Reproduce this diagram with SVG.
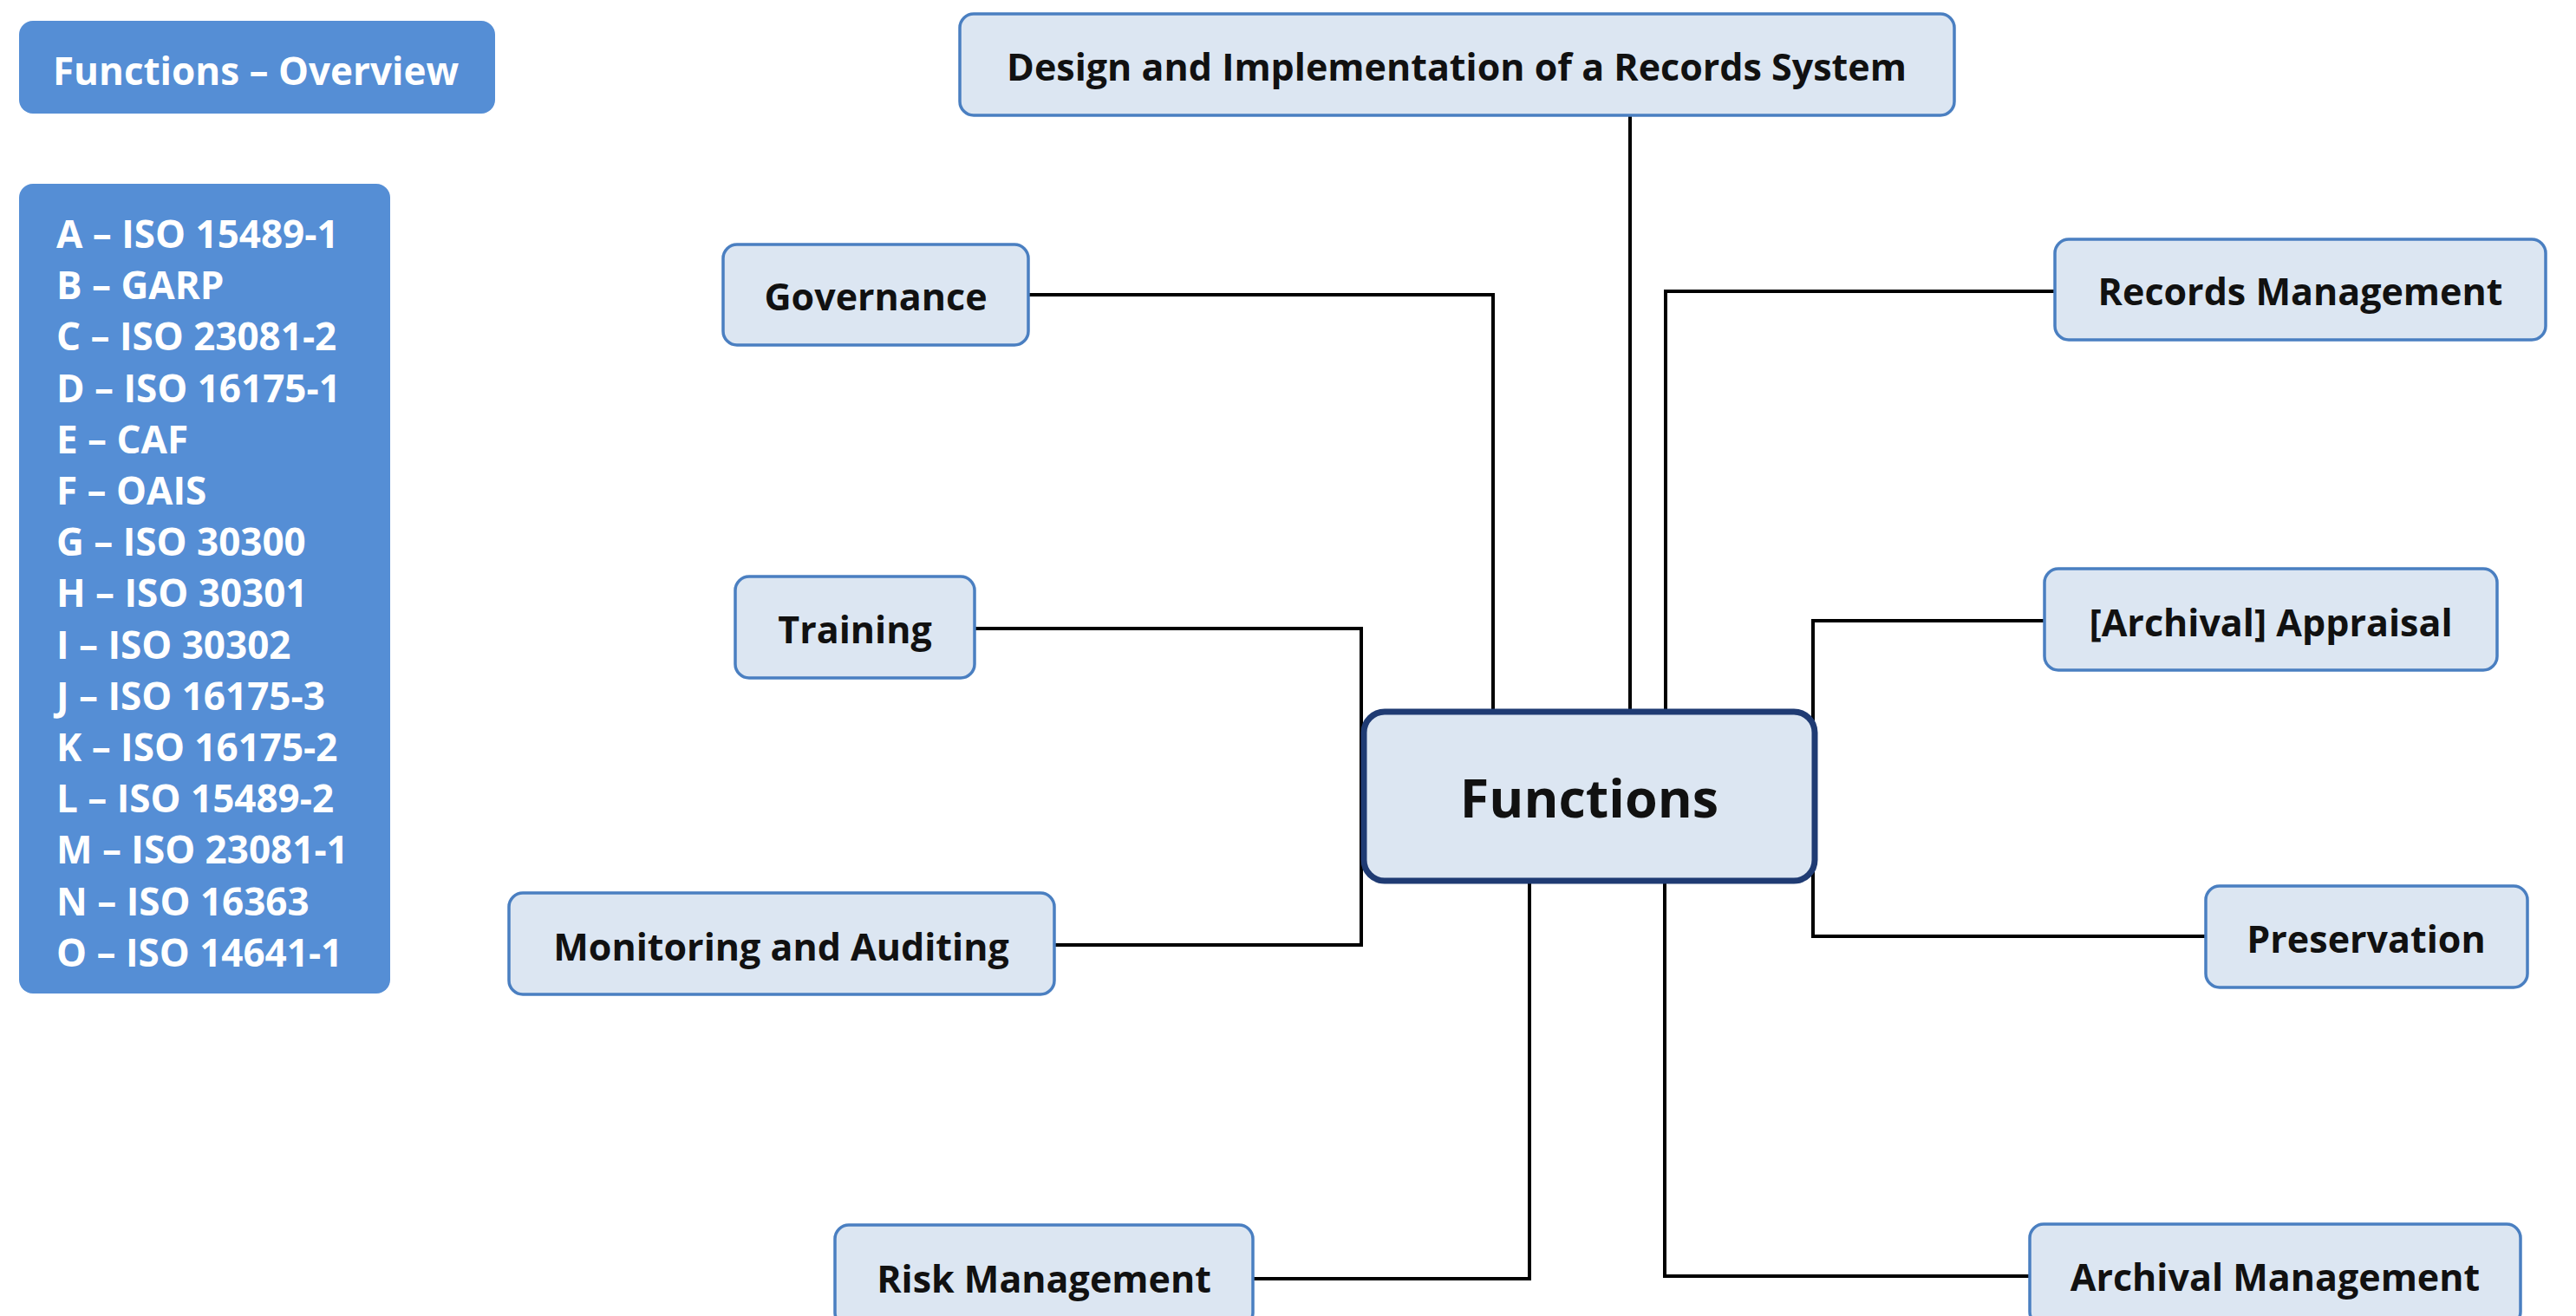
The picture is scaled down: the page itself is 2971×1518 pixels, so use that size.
<svg xmlns="http://www.w3.org/2000/svg" width="2971" height="1518" viewBox="0 0 2971 1518">
  <style>
    .node { fill: #DCE6F2; stroke: #4A7FC1; stroke-width: 3.5; }
    .central { fill: #DCE6F2; stroke: #1F3B73; stroke-width: 7; }
    .panel { fill: #558ED5; stroke: none; }
    .lbl { font-family: "Open Sans", "Liberation Sans", sans-serif; font-weight: 700; font-size: 43px; fill: #111111; text-anchor: middle; }
    .big { font-size: 61px; }
    .wt { font-family: "Open Sans", "Liberation Sans", sans-serif; font-weight: 700; fill: #FFFFFF; font-size: 44px; }
    .conn { fill: none; stroke: #000000; stroke-width: 4; stroke-linejoin: miter; }
  </style>
  <rect x="0" y="0" width="2971" height="1518" fill="#FFFFFF"/>

  <g id="overview-title">
    <rect class="panel" x="22" y="24" width="549" height="107" rx="16"/>
    <text class="wt" x="295" y="98" text-anchor="middle">Functions – Overview</text>
  </g>

  <g id="legend">
    <rect class="panel" x="22" y="212" width="428" height="934" rx="16"/>
    <text class="wt" x="65" y="286">A – ISO 15489-1</text>
    <text class="wt" x="65" y="345">B – GARP</text>
    <text class="wt" x="65" y="404">C – ISO 23081-2</text>
    <text class="wt" x="65" y="464">D – ISO 16175-1</text>
    <text class="wt" x="65" y="523">E – CAF</text>
    <text class="wt" x="65" y="582">F – OAIS</text>
    <text class="wt" x="65" y="641">G – ISO 30300</text>
    <text class="wt" x="65" y="700">H – ISO 30301</text>
    <text class="wt" x="65" y="760">I – ISO 30302</text>
    <text class="wt" x="65" y="819">J – ISO 16175-3</text>
    <text class="wt" x="65" y="878">K – ISO 16175-2</text>
    <text class="wt" x="65" y="937">L – ISO 15489-2</text>
    <text class="wt" x="65" y="996">M – ISO 23081-1</text>
    <text class="wt" x="65" y="1056">N – ISO 16363</text>
    <text class="wt" x="65" y="1115">O – ISO 14641-1</text>
  </g>

  <g id="connectors">
    <path class="conn" d="M1880,133 V820"/>
    <path class="conn" d="M1186,340 H1722 V820"/>
    <path class="conn" d="M2370,336 H1921 V820"/>
    <path class="conn" d="M1124,725 H1570 V1090 H1216"/>
    <path class="conn" d="M2358,716 H2091 V1080 H2544"/>
    <path class="conn" d="M1445,1475 H1764 V1017"/>
    <path class="conn" d="M2341,1472 H1920 V1017"/>
  </g>

  <g id="functions">
    <rect class="central" x="1573" y="821" width="520" height="195" rx="24"/>
    <text class="lbl big" x="1833" y="943">Functions</text>
  </g>

  <g id="design-implementation">
    <rect class="node" x="1107" y="16" width="1147" height="117" rx="16"/>
    <text class="lbl" x="1680" y="93">Design and Implementation of a Records System</text>
  </g>

  <g id="governance">
    <rect class="node" x="834" y="282" width="352" height="116" rx="16"/>
    <text class="lbl" x="1010" y="358">Governance</text>
  </g>

  <g id="records-management">
    <rect class="node" x="2370" y="276" width="566" height="116" rx="16"/>
    <text class="lbl" x="2653" y="352">Records Management</text>
  </g>

  <g id="training">
    <rect class="node" x="848" y="665" width="276" height="117" rx="16"/>
    <text class="lbl" x="986" y="742">Training</text>
  </g>

  <g id="archival-appraisal">
    <rect class="node" x="2358" y="656" width="522" height="117" rx="16"/>
    <text class="lbl" x="2619" y="734">[Archival] Appraisal</text>
  </g>

  <g id="monitoring-auditing">
    <rect class="node" x="587" y="1030" width="629" height="117" rx="16"/>
    <text class="lbl" x="901" y="1108">Monitoring and Auditing</text>
  </g>

  <g id="preservation">
    <rect class="node" x="2544" y="1022" width="371" height="117" rx="16"/>
    <text class="lbl" x="2729" y="1099">Preservation</text>
  </g>

  <g id="risk-management">
    <rect class="node" x="963" y="1413" width="482" height="117" rx="16"/>
    <text class="lbl" x="1204" y="1491">Risk Management</text>
  </g>

  <g id="archival-management">
    <rect class="node" x="2341" y="1412" width="566" height="117" rx="16"/>
    <text class="lbl" x="2624" y="1489">Archival Management</text>
  </g>
</svg>
